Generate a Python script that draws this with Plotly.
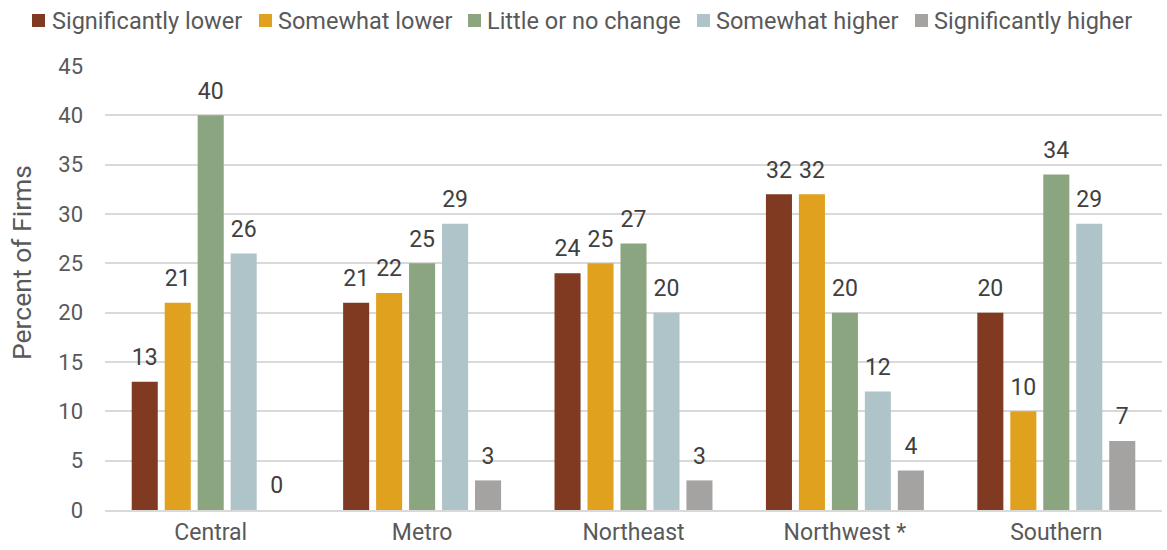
import plotly.graph_objects as go

regions = ["Central", "Metro", "Northeast", "Northwest *", "Southern"]
series_names = ["Significantly lower", "Somewhat lower", "Little or no change",
                "Somewhat higher", "Significantly higher"]
sig_lower = [13, 21, 24, 32, 20]
some_lower = [21, 22, 25, 32, 10]
no_change = [40, 25, 27, 20, 34]
some_higher = [26, 29, 20, 12, 29]
sig_higher = [0, 3, 3, 4, 7]
y_ticks = [0, 5, 10, 15, 20, 25, 30, 35, 40, 45]

colors = ["#7f3a21", "#e0a11f", "#8ba580", "#afc4c9", "#a5a3a2"]
values = [sig_lower, some_lower, no_change, some_higher, sig_higher]

FONT = "Roboto"
W, H = 1167, 550
ML, MR, MT, MB = 105, 5, 66, 40
PW, PH = W - ML - MR, H - MT - MB

fig = go.Figure()
for i, (name, vals, col) in enumerate(zip(series_names, values, colors)):
    grp = str(i)
    fig.add_trace(go.Bar(
        x=regions, y=vals, name=name, marker_color=col, marker_line_width=0,
        offsetgroup=grp, showlegend=False, hoverinfo="x+y+name",
    ))
    # value labels sit above each bar, offset by an invisible marker
    fig.add_trace(go.Scatter(
        x=regions, y=vals, mode="markers+text", offsetgroup=grp,
        text=[str(v) for v in vals], textposition="top center",
        textfont=dict(family=FONT, size=23, color="#404040"),
        marker=dict(size=16, opacity=0), showlegend=False, hoverinfo="skip",
        cliponaxis=False,
    ))


def px_x(p):
    return (p - ML) / PW


def px_y(p):
    return 1 + (MT - p) / PH


# legend row drawn across the top
sq_left = [32, 259, 468, 697, 915]
txt_left = [52, 278, 487, 716, 934]
SQ = 13
LEG_Y = 20.5
for name, col, sx, tx in zip(series_names, colors, sq_left, txt_left):
    fig.add_shape(type="rect", xref="paper", yref="paper",
                  x0=px_x(sx), x1=px_x(sx + SQ),
                  y0=px_y(LEG_Y + SQ / 2), y1=px_y(LEG_Y - SQ / 2),
                  fillcolor=col, line_width=0)
    fig.add_annotation(xref="paper", yref="paper", x=px_x(tx - 2), y=px_y(LEG_Y),
                       xanchor="left", yanchor="middle", text=name, showarrow=False,
                       font=dict(family=FONT, size=23.5, color="#595959"))

# vertical axis title
fig.add_annotation(xref="paper", yref="paper", x=px_x(21), y=px_y(263),
                   xanchor="center", yanchor="middle", textangle=-90,
                   text="Percent of Firms", showarrow=False,
                   font=dict(family=FONT, size=26.5, color="#595959"))

fig.update_layout(
    width=W, height=H,
    margin=dict(l=ML, r=MR, t=MT, b=MB),
    paper_bgcolor="white", plot_bgcolor="white",
    barmode="group", bargap=0.22, bargroupgap=0.21,
    scattermode="group", scattergap=0.22,
    font=dict(family=FONT, color="#595959"),
    showlegend=False,
    xaxis=dict(tickfont=dict(family=FONT, size=23, color="#595959"), showline=True,
               linecolor="#d9d9d9", linewidth=2, ticks=""),
    yaxis=dict(range=[0, 45], tickvals=y_ticks,
               tickfont=dict(family=FONT, size=22, color="#595959"),
               ticklabelstandoff=21,
               gridcolor="#d9d9d9", gridwidth=2, zeroline=False),
)

fig.write_html("out.html")
